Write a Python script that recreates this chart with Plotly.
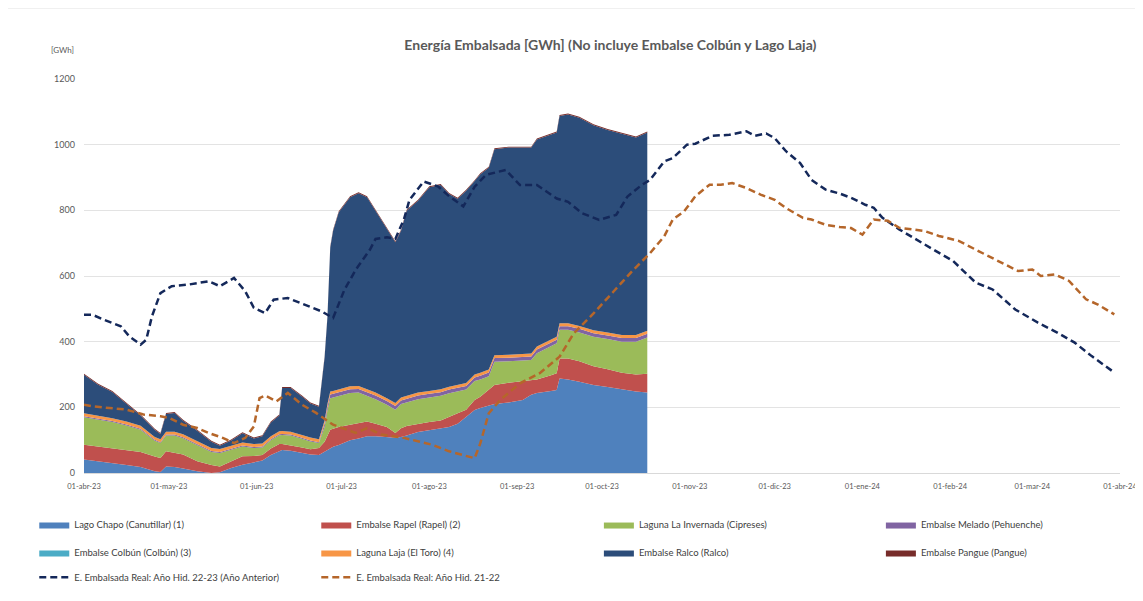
import pandas as pd
import plotly.graph_objects as go

START = pd.Timestamp("2023-04-01")

# Stacked reservoirs (days since 01-abr-23), values in GWh per reservoir
stack_days = [0, 5, 10, 15, 20, 25, 27, 29, 32, 35, 40, 45, 48, 52, 56, 60, 63, 66, 69, 70,
              73, 77, 80, 83, 85, 86, 87, 88, 90, 94, 97, 100, 103, 107, 110, 112, 114, 118,
              122, 126, 129, 132, 135, 138, 140, 143, 145, 150, 155, 158, 160, 165, 167, 168,
              171, 175, 180, 185, 190, 195, 199]
# cumulative boundaries
chapo_top = [41, 36, 30, 24, 18, 5, 3, 20, 18, 14, 5, 0, 2, 15, 25, 32, 38, 55, 68, 70,
             68, 62, 56, 55, 65, 72, 76, 80, 85, 100, 105, 112, 112, 110, 107, 110, 114, 125,
             130, 135, 140, 150, 170, 192, 198, 205, 210, 215, 222, 238, 244, 250, 253, 288,
             285, 278, 268, 262, 255, 248, 245]
rapel_top = [86, 81, 76, 70, 64, 50, 46, 66, 62, 56, 36, 24, 20, 36, 51, 52, 55, 75, 88, 88,
             84, 78, 72, 76, 95, 115, 132, 135, 140, 147, 152, 157, 150, 140, 122, 136, 143, 150,
             155, 160, 172, 182, 193, 222, 232, 255, 268, 275, 280, 282, 285, 298, 304, 349,
             349, 340, 325, 316, 305, 300, 302]
inv_top = [170, 163, 155, 145, 132, 98, 91, 114, 114, 106, 84, 64, 61, 71, 81, 76, 78, 100, 115, 116,
           114, 104, 96, 91, 140, 190, 228, 230, 235, 244, 245, 236, 225, 208, 193, 210, 215, 225,
           230, 235, 243, 248, 254, 280, 285, 295, 339, 340, 342, 344, 365, 388, 395, 436,
           436, 428, 415, 408, 400, 400, 413]
total_top = [302, 272, 250, 213, 178, 135, 122, 183, 186, 162, 132, 98, 86, 102, 124, 108, 115, 157, 178, 262,
             262, 236, 215, 205, 355, 477, 690, 741, 797, 843, 855, 843, 802, 751, 706, 741, 802, 832,
             873, 880, 853, 838, 863, 892, 913, 933, 989, 994, 994, 994, 1019, 1034, 1040, 1090,
             1095, 1085, 1062, 1048, 1037, 1025, 1040]
melado_small = 3
melado_large = 11
laja_val = 9
pangue_val = 3

chapo = chapo_top
rapel = [r - c for r, c in zip(rapel_top, chapo_top)]
invernada = [i - r for i, r in zip(inv_top, rapel_top)]
melado = [melado_small if d < 85 else melado_large for d in stack_days]
colbun = [0 for _ in stack_days]
laja = [laja_val for _ in stack_days]
pangue = [pangue_val for _ in stack_days]
ralco = [t - i - m - l - p for t, i, m, l, p in zip(total_top, inv_top, melado, laja, pangue)]

# Dashed lines: E. Embalsada Real
navy_days = [0, 3, 7, 13, 16, 20, 22, 24, 27, 31, 37, 40, 44, 48, 53, 57, 60, 64, 67, 72, 78, 84,
             88, 92, 96, 101, 103, 107, 110, 113, 115, 120, 125, 129, 134, 138, 142, 149, 154, 160,
             167, 171, 176, 182, 188, 192, 197, 200, 205, 208, 213, 216, 222, 228, 234, 237, 241,
             244, 248, 253, 257, 262, 267, 271, 276, 279, 282, 288, 297, 307, 315, 321, 329, 337,
             344, 350, 356, 364]
navy_vals = [482, 482, 467, 447, 416, 391, 406, 477, 548, 569, 574, 579, 584, 569, 594, 553, 503, 487,
             528, 533, 513, 492, 472, 558, 619, 680, 713, 718, 713, 772, 832, 888, 873, 843, 812, 872,
             908, 923, 877, 877, 836, 826, 791, 771, 786, 842, 877, 893, 949, 959, 1000, 1003, 1027,
             1030, 1041, 1027, 1034, 1020, 980, 944, 893, 863, 851, 838, 817, 808, 778, 742, 696, 646,
             580, 559, 498, 458, 427, 397, 356, 306]
brown_days = [0, 3, 9, 15, 21, 27, 30, 35, 40, 44, 49, 53, 57, 60, 62, 64, 68, 72, 77, 82, 88, 96,
              100, 105, 113, 123, 129, 135, 138, 140, 143, 147, 154, 161, 168, 173, 180, 187, 194,
              200, 205, 208, 212, 216, 221, 225, 229, 234, 239, 244, 248, 254, 257, 262, 267, 271,
              275, 279, 284, 288, 297, 302, 309, 316, 324, 330, 335, 338, 343, 348, 354, 358, 364]
brown_vals = [208, 203, 198, 193, 178, 173, 168, 147, 137, 122, 107, 91, 107, 142, 228, 236, 218, 244,
              208, 183, 147, 122, 137, 117, 107, 86, 66, 51, 45, 90, 182, 222, 273, 304, 354, 425, 486,
              552, 618, 670, 721, 772, 797, 843, 878, 878, 883, 868, 848, 832, 807, 777, 772, 756, 749,
              746, 726, 772, 768, 747, 737, 722, 707, 676, 641, 615, 620, 600, 605, 585, 529, 514, 483]

tick_dates = ["2023-04-01", "2023-05-01", "2023-06-01", "2023-07-01", "2023-08-01", "2023-09-01",
              "2023-10-01", "2023-11-01", "2023-12-01", "2024-01-01", "2024-02-01", "2024-03-01",
              "2024-04-01"]
tick_labels = ["01-abr-23", "01-may-23", "01-jun-23", "01-jul-23", "01-ago-23", "01-sep-23",
               "01-oct-23", "01-nov-23", "01-dic-23", "01-ene-24", "01-feb-24", "01-mar-24",
               "01-abr-24"]

def to_dates(days):
    return [START + pd.Timedelta(days=d) for d in days]

sx = to_dates(stack_days)

series = [
    ("Lago Chapo (Canutillar) (1)", chapo, "#4f81bd", "legend"),
    ("Embalse Rapel (Rapel) (2)", rapel, "#c0504d", "legend"),
    ("Laguna La Invernada (Cipreses)", invernada, "#9bbb59", "legend2"),
    ("Embalse Melado (Pehuenche)", melado, "#8064a2", "legend2"),
    ("Embalse Colbún (Colbún) (3)", colbun, "#4bacc6", "legend3"),
    ("Laguna Laja (El Toro) (4)", laja, "#f79646", "legend3"),
    ("Embalse Ralco (Ralco)", ralco, "#2c4d7a", "legend4"),
    ("Embalse Pangue (Pangue)", pangue, "#772c2a", "legend4"),
]

fig = go.Figure()
for name, vals, col, lg in series:
    fig.add_trace(go.Scatter(x=sx, y=vals, name=name, stackgroup="s", mode="lines",
                             line=dict(width=0, color=col), fillcolor=col, legend=lg))

fig.add_trace(go.Scatter(x=to_dates(navy_days), y=navy_vals, mode="lines",
                         name="E. Embalsada Real: Año Hid. 22-23 (Año Anterior)", legend="legend5",
                         line=dict(color="#14285a", width=2.5, dash="7px,4px")))
fig.add_trace(go.Scatter(x=to_dates(brown_days), y=brown_vals, mode="lines",
                         name="E. Embalsada Real: Año Hid. 21-22", legend="legend5",
                         line=dict(color="#b5662a", width=2.5, dash="7px,4px")))

def leg(xpos, ypos):
    return dict(orientation="h", x=xpos, xanchor="left", y=ypos, yanchor="top",
                entrywidth=237, entrywidthmode="pixels", traceorder="normal",
                font=dict(size=9.5, color="#404040"), itemwidth=30, bgcolor="rgba(0,0,0,0)")

XL = -0.048
XR = 0.497
fig.update_layout(
    width=1143, height=601,
    paper_bgcolor="white", plot_bgcolor="white",
    font=dict(family="Lato, Open Sans, sans-serif", size=9, color="#595959"),
    margin=dict(l=76, r=31, t=71, b=136, autoexpand=False),
    title=dict(text="<b>Energía Embalsada [GWh] (No incluye Embalse Colbún y Lago Laja)</b>",
               x=0.527, xanchor="center", y=0.938, yanchor="middle",
               font=dict(size=14, color="#595959")),
    showlegend=True,
    legend=leg(XL, -0.094),
    legend2=leg(XR, -0.094),
    legend3=leg(XL, -0.165),
    legend4=leg(XR, -0.165),
    legend5=leg(XL, -0.228),
    annotations=[dict(text="[GWh]", xref="paper", yref="paper", x=-0.021, y=1.074,
                      xanchor="center", yanchor="middle", showarrow=False,
                      font=dict(size=8, color="#595959"))],
    shapes=[dict(type="rect", xref="paper", yref="paper", x0=-0.077, x1=1.02, y0=-0.33, y1=1.18,
                 line=dict(color="#e6e6e6", width=1))],
)
fig.update_xaxes(range=[START, pd.Timestamp("2024-04-01")], tickvals=tick_dates, ticktext=tick_labels,
                 showgrid=False, showline=True, linecolor="#d9d9d9", ticks="",
                 ticklabelstandoff=6,
                 tickfont=dict(size=7.5, color="#595959"), tickangle=0)
fig.update_yaxes(range=[0, 1200], dtick=200, showgrid=True, gridcolor="#e3e3e3", zeroline=False,
                 showline=False, ticks="", ticklabelstandoff=8,
                 tickfont=dict(size=9, color="#595959"))

fig.write_html("out.html")
